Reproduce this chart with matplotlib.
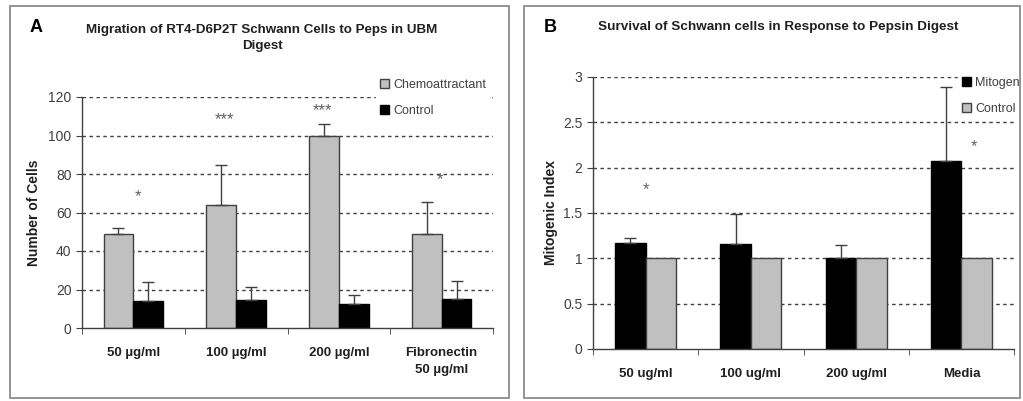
import matplotlib
matplotlib.use("Agg")
from matplotlib import pyplot as plt
from matplotlib.patches import Rectangle
import numpy as np

plt.rcParams['font.family'] = ['Liberation Sans', 'DejaVu Sans']

# panel A data
cats_a = ["50 µg/ml", "100 µg/ml", "200 µg/ml", "Fibronectin\n50 µg/ml"]
chemo = [48.6, 63.7, 99.7, 48.6]
chemo_err = [3.2, 21.0, 6.4, 16.7]
ctrl_a = [14.1, 14.8, 12.3, 15.1]
ctrl_a_err = [9.7, 6.6, 4.6, 9.2]
stars_a = ["*", "***", "***", "*"]
stars_a_x = [0.04, 0.89, 1.84, 2.98]
stars_a_y = [68, 108, 113, 77]

# panel B data
cats_b = ["50 ug/ml", "100 ug/ml", "200 ug/ml", "Media"]
mitogen = [1.17, 1.16, 1.0, 2.07]
mitogen_err = [0.05, 0.33, 0.15, 0.82]
ctrl_b = [1.0, 1.0, 1.0, 1.0]
stars_b = ["*", "*"]
stars_b_x = [0.0, 3.12]
stars_b_y = [1.76, 2.23]

W, H = 1023, 401
fig = plt.figure(figsize=(W / 100, H / 100), dpi=100)

def px_axes(l, t, r, b):
    return fig.add_axes([l / W, 1 - b / H, (r - l) / W, (b - t) / H])

# panel frames
for (l, t, r, b) in [(10, 6, 509, 398), (524, 6, 1020, 398)]:
    fig.patches.append(Rectangle((l / W, 1 - b / H), (r - l) / W, (b - t) / H,
                                 transform=fig.transFigure, fill=False,
                                 edgecolor="#8c8c8c", linewidth=1.3))

light = "#c0c0c0"
edge = "#404040"
txt = "#404040"
bw = 0.29

def style(ax, cats, ylim, yticks):
    x = np.arange(len(cats))
    ax.set_xlim(-0.5, len(cats) - 0.5)
    ax.set_ylim(*ylim)
    ax.set_yticks(yticks)
    ax.set_xticks(x)
    ax.set_xticklabels(cats, fontweight="bold", fontsize=9.5, color="#202020",
                       linespacing=1.5)
    ax.set_xticks(np.arange(len(cats) + 1) - 0.5, minor=True)
    ax.tick_params(axis="x", which="major", length=0, pad=14)
    ax.tick_params(axis="x", which="minor", length=4, direction="out", color=edge)
    ax.tick_params(axis="y", length=4, color=edge, labelsize=10, labelcolor=txt)
    for s in ["top", "right"]:
        ax.spines[s].set_visible(False)
    for s in ["left", "bottom"]:
        ax.spines[s].set_color(edge)
        ax.spines[s].set_linewidth(1.0)
    for v in yticks[1:]:
        ax.axhline(v, color="#404040", linestyle=(0, (2.5, 2.5)), linewidth=1.0, zorder=0)
    return x

def legend(ax, l, t):
    leg = ax.legend(loc="upper left", bbox_to_anchor=(l / W, 1 - t / H),
                    bbox_transform=fig.transFigure, frameon=True, fancybox=False,
                    edgecolor="white", facecolor="white", framealpha=1,
                    fontsize=9, handlelength=0.7, handleheight=0.7,
                    handletextpad=0.4, labelspacing=1.1, borderpad=0.3,
                    borderaxespad=0)
    for t in leg.get_texts():
        t.set_color(txt)
    return leg

# ---- A ----
axA = px_axes(82, 97, 493, 328)
x = style(axA, cats_a, (0, 120), [0, 20, 40, 60, 80, 100, 120])
axA.bar(x - bw / 2, chemo, bw, color=light, edgecolor=edge, linewidth=1.0,
        label="Chemoattractant", zorder=2)
axA.bar(x + bw / 2, ctrl_a, bw, color="black", edgecolor="black", linewidth=1.0,
        label="Control", zorder=2)
axA.errorbar(x - bw / 2, chemo, yerr=[np.zeros(4), chemo_err], fmt="none",
             ecolor=edge, elinewidth=1, capsize=4, zorder=3)
axA.errorbar(x + bw / 2, ctrl_a, yerr=[np.zeros(4), ctrl_a_err], fmt="none",
             ecolor=edge, elinewidth=1, capsize=4, zorder=3)
for s, sx, sy in zip(stars_a, stars_a_x, stars_a_y):
    axA.text(sx, sy, s, ha="center", va="center", fontsize=12, color="#606060")
axA.set_ylabel("Number of Cells", fontweight="bold", fontsize=10, color="#202020", labelpad=5)
legend(axA, 376, 75)
fig.text(30 / W, 1 - 28 / H, "A", fontweight="bold", fontsize=13, va="center")
fig.text(262 / W, 1 - 38 / H, "Migration of RT4-D6P2T Schwann Cells to Peps in UBM\nDigest",
         fontweight="bold", fontsize=9.6, ha="center", va="center", color="#202020",
         linespacing=1.5)

# ---- B ----
axB = px_axes(593, 77, 1014, 349)
x = style(axB, cats_b, (0, 3), [0, 0.5, 1, 1.5, 2, 2.5, 3])
axB.set_yticklabels(["0", "0.5", "1", "1.5", "2", "2.5", "3"])
axB.bar(x - bw / 2, mitogen, bw, color="black", edgecolor="black", linewidth=1.0,
        label="Mitogen", zorder=2)
axB.bar(x + bw / 2, ctrl_b, bw, color=light, edgecolor=edge, linewidth=1.0,
        label="Control", zorder=2)
axB.errorbar(x - bw / 2, mitogen, yerr=[np.zeros(4), mitogen_err], fmt="none",
             ecolor=edge, elinewidth=1, capsize=4, zorder=3)
for s, sx, sy in zip(stars_b, stars_b_x, stars_b_y):
    axB.text(sx, sy, s, ha="center", va="center", fontsize=12, color="#606060")
axB.set_ylabel("Mitogenic Index", fontweight="bold", fontsize=10, color="#202020", labelpad=4)
legend(axB, 958, 73)
fig.text(544 / W, 1 - 28 / H, "B", fontweight="bold", fontsize=13, va="center")
fig.text(778 / W, 1 - 27 / H, "Survival of Schwann cells in Response to Pepsin Digest",
         fontweight="bold", fontsize=9.7, ha="center", va="center", color="#202020")

fig.savefig("out.png", dpi=100)
